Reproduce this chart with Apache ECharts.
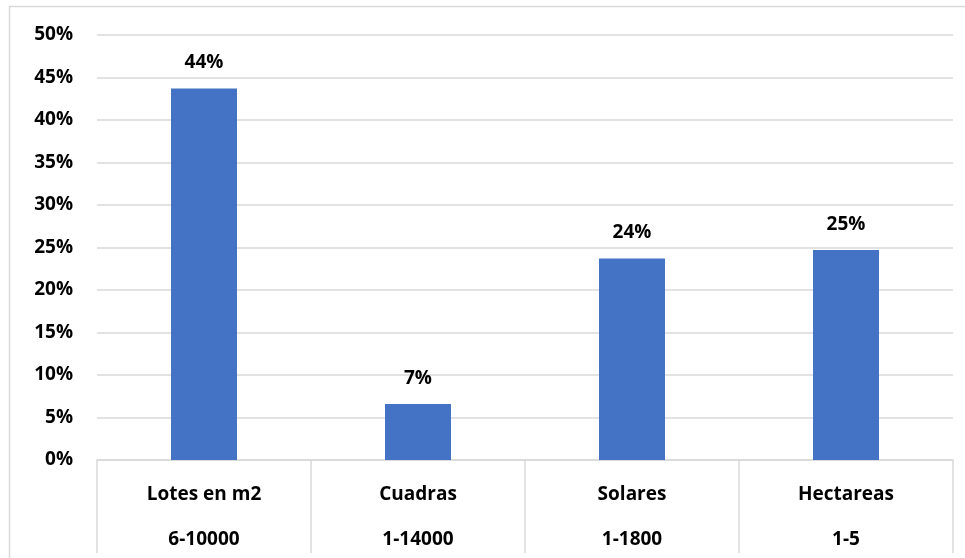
<!DOCTYPE html>
<html>
<head>
<meta charset="utf-8">
<script src="https://cdn.jsdelivr.net/npm/echarts@6/dist/echarts.min.js"></script>
<style>
  html, body { margin: 0; padding: 0; background: #fff; }
  #chart { width: 965px; height: 558px; }
</style>
</head>
<body>
<div id="chart"></div>
<script>
// Land-unit categories with their ranges, and share of each (percent)
const categories = ['Lotes en m2', 'Cuadras', 'Solares', 'Hectareas'];
const ranges = ['6-10000', '1-14000', '1-1800', '1-5'];
const shares = [43.7, 6.6, 23.7, 24.7];
const yTicks = { min: 0, max: 50, interval: 5 };

const FONT = '"Open Sans", Lato, sans-serif';
const GRID_COLOR = '#d9d9d9';

const chart = echarts.init(document.getElementById('chart'));
chart.setOption({
  animation: false,
  backgroundColor: '#fff',
  graphic: [{
    type: 'rect',
    shape: { x: 9.5, y: 6.5, width: 1000, height: 600 },
    style: { fill: 'none', stroke: GRID_COLOR, lineWidth: 1.5 },
    silent: true
  }],
  grid: {
    left: 97, right: 12, top: 35, bottom: 98,
    containLabel: false,
    outerBoundsMode: 'none'
  },
  xAxis: {
    type: 'category',
    data: categories.map((c, i) => c + '\n' + ranges[i]),
    axisLine: { lineStyle: { color: GRID_COLOR, width: 1.5 } },
    axisTick: { show: true, length: 93, lineStyle: { color: GRID_COLOR, width: 1.5 } },
    axisLabel: {
      margin: 12,
      fontFamily: FONT,
      fontWeight: 'bold',
      fontSize: 19,
      color: '#000',
      lineHeight: 45
    },
    splitLine: { show: false }
  },
  yAxis: {
    type: 'value',
    min: yTicks.min,
    max: yTicks.max,
    interval: yTicks.interval,
    axisLine: { show: false },
    axisTick: { show: false },
    axisLabel: {
      formatter: v => v + '%',
      margin: 24,
      padding: [4, 0, 0, 0],
      fontFamily: FONT,
      fontWeight: 'bold',
      fontSize: 19,
      color: '#000'
    },
    splitLine: { lineStyle: { color: GRID_COLOR, width: 1.5 } }
  },
  series: [{
    type: 'bar',
    data: shares,
    barWidth: 66,
    itemStyle: { color: '#4472C4' },
    label: {
      show: true,
      position: 'top',
      distance: 16,
      formatter: p => Math.round(p.value) + '%',
      fontFamily: FONT,
      fontWeight: 'bold',
      fontSize: 19,
      color: '#000'
    }
  }]
});
</script>
</body>
</html>
